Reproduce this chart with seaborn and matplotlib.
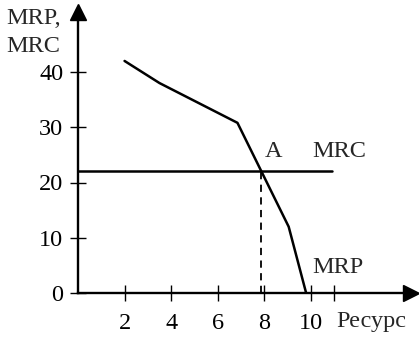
import numpy as np
import pandas as pd
import seaborn as sns
import matplotlib.pyplot as plt

# Data
mrp_x = [2, 3.5, 6.85, 9.05, 9.8]
mrp_y = [42, 38, 30.8, 12, 0]
mrc_x = [0, 10.9]
mrc_y = [22.1, 22.1]
point_a = (7.85, 22.1)
x_ticks = [2, 4, 6, 8, 10, 11]
x_labels = ['2', '4', '6', '8', '10', '']
y_ticks = [0, 10, 20, 30, 40]

sns.set_style('white')
plt.rcParams['font.family'] = ['Liberation Serif', 'DejaVu Serif']
fs = 17.5

fig = plt.figure(figsize=(4.19, 3.38), dpi=100)
W, H = 419, 338
ax = fig.add_axes([78 / W, (H - 293) / H, (411 - 78) / W, (293 - 12) / H])

mrp = pd.DataFrame({'x': mrp_x, 'y': mrp_y})
mrc = pd.DataFrame({'x': mrc_x, 'y': mrc_y})
sns.lineplot(data=mrp, x='x', y='y', color='black', linewidth=1.8, sort=False, ax=ax)
sns.lineplot(data=mrc, x='x', y='y', color='black', linewidth=1.8, ax=ax)
ax.plot([point_a[0], point_a[0]], [0, point_a[1]], color='black', linestyle=(0, (4, 3)), linewidth=1.3)

ax.set_xlim(0, (411 - 77.7) / 23.3)
ax.set_ylim(0, (293 - 12) / 5.525)

# axes as arrows
for side in ['top', 'right']:
    ax.spines[side].set_visible(False)
for side in ['left', 'bottom']:
    ax.spines[side].set_color('black')
    ax.spines[side].set_linewidth(1.7)
ax.plot(1, 0, '>', color='black', markersize=12, transform=ax.transAxes, clip_on=False)
ax.plot(0, 1, '^', color='black', markersize=12, transform=ax.transAxes, clip_on=False)

ax.set_xticks(x_ticks)
ax.set_xticklabels(x_labels)
ax.set_yticks(y_ticks)
ax.tick_params(axis='both', direction='inout', length=11, width=1, color='black',
               labelsize=fs, labelcolor='black', bottom=True, left=True)
ax.tick_params(axis='x', pad=9)
ax.tick_params(axis='y', pad=5)
ax.set_xlabel('')
ax.set_ylabel('')

ax.text(point_a[0] + 0.55, 25.6, 'A', ha='center', va='center', fontsize=fs)
ax.text(11.2, 25.6, 'MRC', ha='center', va='center', fontsize=fs)
ax.text(11.15, 4.7, 'MRP', ha='center', va='center', fontsize=fs)
ax.text(12.6, -3.3, 'Ресурс', ha='center', va='top', fontsize=fs)
fig.text(6 / W, 1 - 18 / H, 'MRP,', ha='left', va='center', fontsize=fs)
fig.text(6 / W, 1 - 46 / H, 'MRC', ha='left', va='center', fontsize=fs)

fig.savefig('out.png', dpi=100)
